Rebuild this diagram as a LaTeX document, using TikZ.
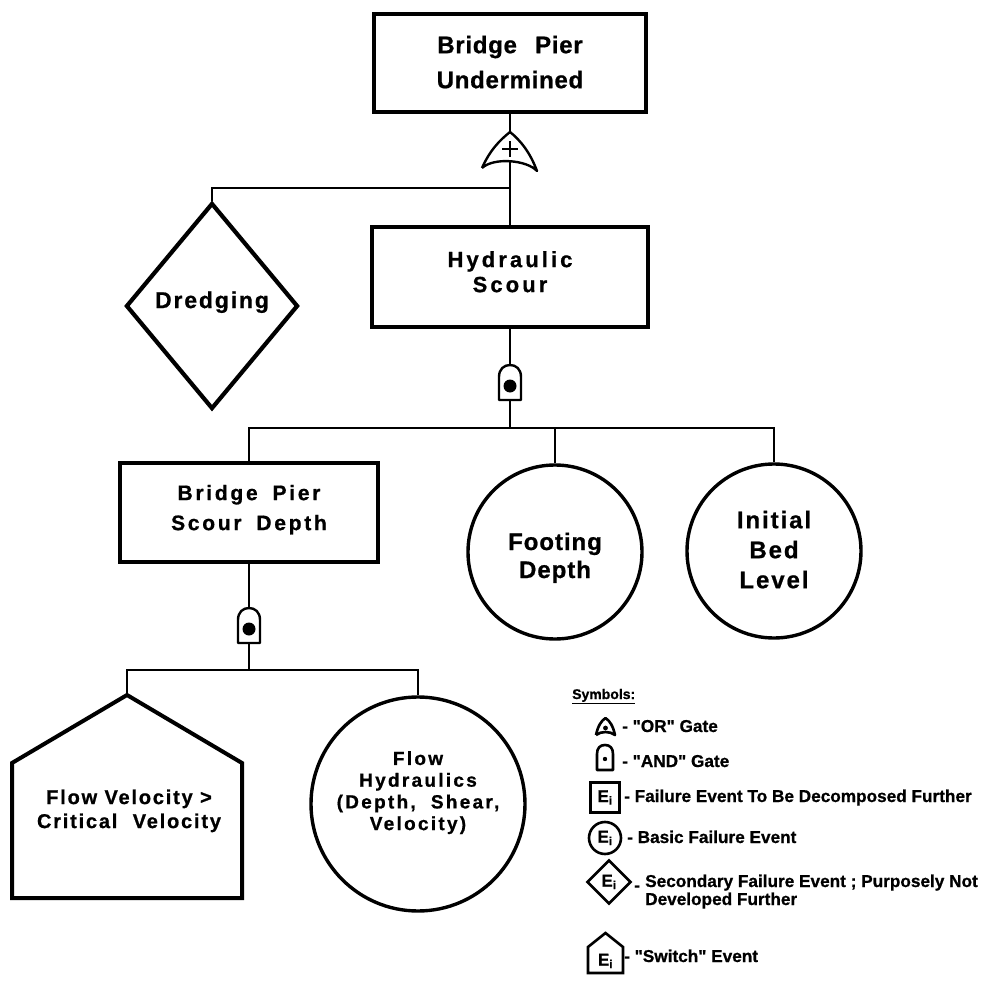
\documentclass[tikz,border=0pt]{standalone}
\usepackage{fontspec}
\setmainfont{Liberation Sans}[Ligatures=TeXOff]
\usetikzlibrary{shapes.geometric}
\newcommand{\lf}[3]{\fontsize{#1pt}{#2pt}\selectfont\bfseries\addfontfeatures{LetterSpace=#3,FakeBold=0.8}}
\newcommand{\qq}{\char"22\relax}
\begin{document}
\begin{tikzpicture}[x=1pt,y=-1pt,
  conn/.style={line width=2.2pt},
  evbox/.style={draw,rectangle,line width=3.6pt,align=center,inner sep=0pt},
  basicev/.style={draw,circle,line width=3.4pt,align=center,inner sep=0pt},
  secev/.style={draw,diamond,line width=4.2pt,align=center,inner sep=0pt},
  gate/.style={line width=2.4pt,line join=round},
  switchev/.style={line width=4pt,line join=miter},
  lgd/.style={font=\lf{17.2}{18}{0},anchor=base west,inner sep=0pt},
  lgdsym/.style={line width=2.6pt,line join=round},
  lgdnode/.style={draw,line width=2.6pt,inner sep=0pt,font=\lf{17}{18}{0}}]

\fill[white] (0,0) rectangle (989,982);
\useasboundingbox (0,0) rectangle (989,982);

% ---------------- events ----------------
\node[evbox,minimum width=272pt,minimum height=98pt,text depth=2pt,font=\lf{24}{35}{3}] (top) at (510,63) {Bridge\hspace{0.45em} Pier\\Undermined};
\node[evbox,minimum width=276pt,minimum height=100pt,text depth=10.7pt,font=\lf{22}{25}{14}] (hs) at (510,277) {Hydraulic\\Scour};
\node[secev,minimum width=172pt,minimum height=206pt,text depth=12.5pt,font=\lf{23}{28}{8}] (dr) at (212,306) {Dredging};
\node[evbox,minimum width=258pt,minimum height=99pt,text depth=10pt,font=\lf{21}{30}{13}] (bp) at (249,512.5) {Bridge\hspace{0.3em} Pier\\Scour\hspace{0.3em} Depth};
\node[basicev,minimum size=174pt,text height=52pt,text depth=0pt,font=\lf{24}{28}{4}] (fd) at (555,552) {Footing\\Depth};
\node[basicev,minimum size=174pt,text depth=3pt,font=\lf{24}{30}{8}] (ib) at (774,551) {Initial\\Bed\\Level};
\node[basicev,minimum size=214pt,text depth=26.7pt,font=\lf{19}{21.7}{12}] (fh) at (418,804) {Flow\\Hydraulics\\(Depth,\hspace{0.4em} Shear,\\Velocity)};

% switch event
\node[align=center,inner sep=0pt,text depth=0pt,font=\lf{20}{24}{9}] (fv) at (129,808.8) {Flow Velocity >\\Critical\hspace{0.4em} Velocity};
\coordinate (fvtop) at (127,695);
\draw[switchev] (fvtop) -- (242,763) -- (242,898) -- (12,898) -- (12,763) -- cycle;

% ---------------- gates ----------------
% OR gate
\coordinate (org) at (510,132);
\coordinate (orb) at (510,161);
\draw[gate] (482,168) .. controls (490,150) and (500,140) .. (org)
  .. controls (520,140) and (530,152) .. (537,171)
  .. controls (527,160) and (494,157) .. (482,168);
\draw[line width=2.8pt] (502,149) -- (518,149) (510,141) -- (510,157);

% AND gate 1
\coordinate (a1t) at (510,365);
\coordinate (a1b) at (510,400);
\draw[gate] (499,400) -- (499,377) .. controls (499,369) and (504,365) .. (a1t)
  .. controls (516,365) and (521,369) .. (521,377) -- (521,400) -- cycle;
\fill (510,386) circle (6.5pt);

% AND gate 2
\coordinate (a2t) at (249,608);
\coordinate (a2b) at (249,643);
\draw[gate] (238,643) -- (238,620) .. controls (238,612) and (243,608) .. (a2t)
  .. controls (255,608) and (260,612) .. (260,620) -- (260,643) -- cycle;
\fill (249,629) circle (6.5pt);

% ---------------- connectors ----------------
\draw[conn] (top.south) -- (org);
\draw[conn] (orb) -- (hs.north);
\coordinate (j1) at (510,188);
\draw[conn] (j1) -| (dr.north);
\draw[conn] (hs.south) -- (a1t);
\coordinate (j2) at (510,428);
\draw[conn] (a1b) -- (j2);
\draw[conn] (bp.north) |- (j2) -| (ib.north);
\draw[conn] (fd.north) -- (fd.north |- j2);
\draw[conn] (bp.south) -- (a2t);
\coordinate (j3) at (249,670);
\draw[conn] (a2b) -- (j3);
\draw[conn] (fvtop) |- (j3) -| (fh.north);

% ---------------- legend ----------------
\node[lgd,font=\lf{14}{15}{0}] (sym) at (572,699) {\underline{Symbols:}};

\draw[lgdsym] (596,735) .. controls (598,726) and (601,721) .. (605.5,718)
  .. controls (610,721) and (613,726) .. (615,735)
  .. controls (610,731) and (601,731) .. (596,735);
\fill (605.5,728) circle (2.4pt);
\node[lgd] (l1) at (622,732) {- \qq OR\qq\ Gate};

\draw[lgdsym] (597,770) -- (597,754) .. controls (597,748) and (600,745) .. (605,745)
  .. controls (610,745) and (613,748) .. (613,754) -- (613,770) -- cycle;
\fill (605,759) circle (2.2pt);
\node[lgd] (l2) at (622,767) {- \qq AND\qq\ Gate};

\node[lgdnode,minimum width=29pt,minimum height=30pt] (lbox) at (605,797.5) {E\textsubscript{i}};
\node[lgd] (l3) at (624,802) {- Failure Event To Be Decomposed Further};

\node[lgdnode,circle,minimum size=32pt] (lcirc) at (605,838) {E\textsubscript{i}};
\node[lgd] (l4) at (627,843) {- Basic Failure Event};

\node[lgdnode,diamond,minimum width=44pt,minimum height=44pt] (ldia) at (609,882) {E\textsubscript{i}};
\node[lgd] (l5d) at (634,891) {-};
\node[lgd] (l5a) at (645,887) {Secondary Failure Event ; Purposely Not};
\node[lgd] (l5b) at (645,905) {Developed Further};

\draw[lgdsym,line join=miter] (605.5,933) -- (623,947) -- (623,973) -- (588,973) -- (588,947) -- cycle;
\node[inner sep=0pt,font=\lf{17}{18}{0}] (lsw) at (605.5,961) {E\textsubscript{i}};
\node[lgd] (l6) at (624,962) {- \qq Switch\qq\ Event};
\end{tikzpicture}
\end{document}
